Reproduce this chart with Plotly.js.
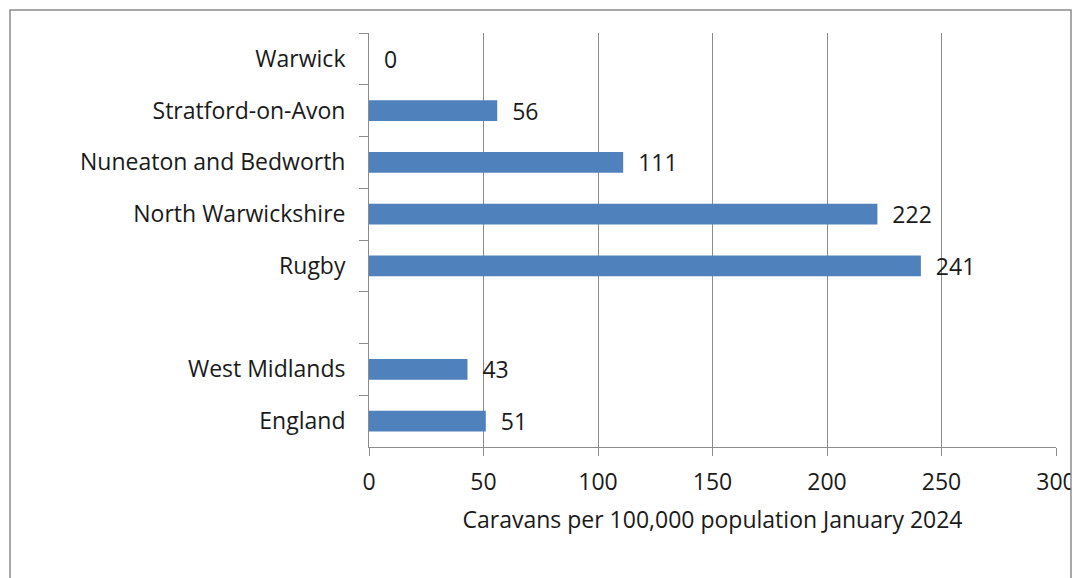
<!DOCTYPE html>
<html><head><meta charset="utf-8">
<script src="https://cdn.plot.ly/plotly-3.0.1.min.js"></script>
<style>html,body{margin:0;padding:0;background:#fff}#chart{width:1075px;height:578px}</style>
</head><body><div id="chart"></div>
<script>
const categories = ["Warwick","Stratford-on-Avon","Nuneaton and Bedworth","North Warwickshire","Rugby"," ","West Midlands","England"];
const values = [0,56,111,222,241,null,43,51];
const labels = ["0","56","111","222","241","","43","51"];
const xTicks = [0,50,100,150,200,250,300];

const L=369,R=1056,T=33,B=447;
const px = x => (x-L)/(R-L);
const py = y => (B-y)/(B-T);
const font = {family:"'Open Sans', sans-serif", size:23, color:"#1a1a1a"};

Plotly.newPlot("chart",[{
  type:"bar", orientation:"h", y:categories, x:values,
  text:labels.map(s => s ? "\u00a0\u00a0" + s : s), textposition:"outside", cliponaxis:false,
  constraintext:"none",
  textfont:font, marker:{color:"#4F81BD"}, width:0.4, hoverinfo:"none"
}],{
  width:1075,height:578,
  margin:{l:L,r:1075-R,t:T,b:578-B},
  paper_bgcolor:"#fff",plot_bgcolor:"#fff",
  showlegend:false,
  font:font,
  xaxis:{range:[0,300],tickvals:xTicks,ticktext:xTicks.map(String),
    showgrid:true,gridcolor:"#8c8c8c",gridwidth:1,zeroline:false,
    showline:true,linecolor:"#8c8c8c",linewidth:1,ticklabeloverflow:"allow",
    ticks:"outside",ticklen:8,tickcolor:"#8c8c8c",tickfont:font,ticklabelstandoff:6,
    title:{text:"Caravans per 100,000 population January 2024",font:font,standoff:16}},
  yaxis:{type:"category",autorange:"reversed",tickson:"boundaries",
    showline:true,linecolor:"#8c8c8c",linewidth:1,showgrid:false,
    ticks:"outside",ticklen:9,tickcolor:"#8c8c8c",tickfont:font,ticksuffix:"\u00a0\u00a0\u00a0"},
  shapes:[
    {type:"rect",xref:"paper",yref:"paper",x0:px(1071),x1:px(1085),y0:py(-5),y1:py(600),
     fillcolor:"#fff",line:{width:0},layer:"above"},
    {type:"rect",xref:"paper",yref:"paper",x0:px(10),x1:px(1071),y0:py(10),y1:py(640),
     fillcolor:"rgba(0,0,0,0)",line:{color:"#8c8c8c",width:1.5},layer:"above"}
  ]
},{staticPlot:true});
</script></body></html>
